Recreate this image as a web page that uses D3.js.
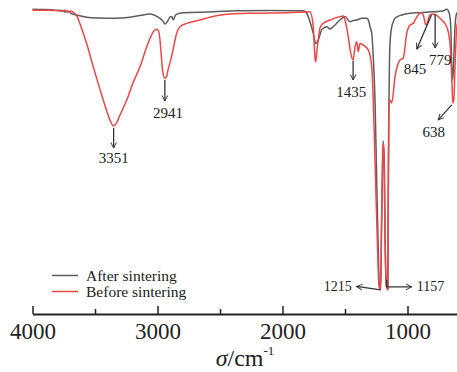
<!DOCTYPE html>
<html>
<head>
<meta charset="utf-8">
<script src="https://cdn.jsdelivr.net/npm/d3@7/dist/d3.min.js"></script>
<style>
  html, body { margin: 0; padding: 0; background: #fff; }
  svg { display: block; }
  text { font-family: "Liberation Serif", "Times New Roman", serif; fill: #222; }
</style>
</head>
<body>
<svg id="chart" width="457" height="372"></svg>
<script>
// FTIR spectra, wavenumber (cm^-1) vs transmittance (%)
const afterWn = [4000, 3900, 3820, 3764, 3740, 3716, 3684, 3646, 3566, 3460, 3354, 3220, 3140, 3060, 3020, 2980, 2956, 2940, 2924, 2914, 2900, 2886, 2874, 2860, 2846, 2794, 2554, 2366, 2100, 1834, 1812, 1794, 1772, 1754, 1734, 1714, 1686, 1646, 1620, 1594, 1572, 1540, 1500, 1460, 1436, 1406, 1366, 1326, 1308, 1300, 1286, 1274, 1260, 1248, 1236, 1224, 1215, 1208, 1200, 1194, 1186, 1180, 1168, 1157, 1154, 1148, 1140, 1126, 1114, 1100, 1046, 980, 900, 794, 716, 686, 666, 654, 646, 638, 630, 620, 606, 580];
const afterT  = [99.9, 99.8, 99.6, 99.5, 98.9, 99.3, 98.2, 97.9, 97.1, 96.8, 96.7, 97.1, 97.7, 98.2, 97.7, 96.7, 95.7, 94.7, 95.4, 96.1, 97.2, 97.3, 96.1, 97.5, 98.2, 98.7, 99.0, 99.4, 99.5, 99.4, 98.9, 97.3, 94.3, 91.4, 87.8, 89.0, 92.6, 93.7, 92.9, 93.7, 94.7, 96.1, 97.3, 95.5, 95.9, 96.1, 96.7, 96.7, 95.4, 93.7, 91.4, 83.1, 67.7, 42.9, 18.1, 1.4, 0.7, 21.6, 42.9, 53.2, 44.7, 19.9, 1.4, 0.7, 32.3, 67.7, 87.8, 93.7, 95.4, 96.7, 97.9, 98.5, 98.7, 99.0, 99.3, 99.9, 98.5, 93.7, 79.5, 74.8, 81.9, 93.7, 98.5, 99.3];

const beforeWn = [4000, 3900, 3820, 3764, 3740, 3716, 3692, 3668, 3644, 3620, 3594, 3556, 3514, 3476, 3434, 3404, 3380, 3351, 3328, 3300, 3246, 3196, 3140, 3086, 3052, 3034, 3006, 2992, 2980, 2968, 2958, 2941, 2928, 2916, 2900, 2876, 2846, 2820, 2766, 2660, 2540, 2420, 2236, 1966, 1820, 1780, 1754, 1740, 1734, 1726, 1714, 1700, 1674, 1620, 1540, 1514, 1500, 1474, 1456, 1435, 1420, 1406, 1394, 1380, 1354, 1314, 1286, 1274, 1260, 1244, 1228, 1215, 1208, 1200, 1194, 1186, 1180, 1168, 1157, 1154, 1150, 1140, 1126, 1100, 1060, 1034, 1006, 980, 954, 926, 900, 886, 874, 852, 820, 794, 740, 686, 660, 646, 638, 630, 620, 612, 604, 580];
const beforeT  = [99.6, 99.6, 99.5, 99.3, 99.6, 98.9, 99.3, 98.6, 97.5, 94.7, 91.5, 86.2, 79.5, 73.8, 67.7, 63.5, 60.6, 58.5, 59.6, 62.4, 67.7, 73.8, 79.5, 86.6, 90.4, 91.9, 92.8, 92.2, 89.0, 82.6, 77.7, 75.5, 75.9, 78.4, 80.9, 85.5, 91.5, 93.7, 94.9, 96.1, 97.5, 98.2, 98.5, 98.7, 98.9, 99.0, 93.7, 82.6, 81.3, 84.8, 89.0, 93.3, 94.9, 96.1, 97.3, 97.5, 96.1, 90.2, 84.8, 81.9, 86.6, 88.4, 84.9, 87.8, 87.2, 85.5, 79.5, 67.7, 46.5, 21.6, 2.1, 0.4, 21.6, 46.5, 52.5, 46.5, 21.6, 2.1, 0.4, 32.3, 64.2, 67.7, 66.7, 75.9, 81.9, 82.6, 91.4, 94.3, 94.9, 97.2, 98.5, 98.7, 97.9, 94.3, 97.9, 98.2, 96.7, 93.7, 87.9, 76.0, 66.7, 67.7, 79.5, 89.0, 94.3, 96.8];

const seriesNames = ["After sintering", "Before sintering"];
const seriesColors = ["#5c5c5c", "#ef4646"];

// axis ticks
const majorTicks = [4000, 3000, 2000, 1000];
const minorTicks = [3500, 2500, 1500, 500];

// peak annotations
const peakWn = [3351, 2941, 1435, 845, 779, 638, 1215, 1157];
const peakLabels = ["3351", "2941", "1435", "845", "779", "638", "1215", "1157"];

const svg = d3.select("#chart");
const x = d3.scaleLinear().domain([4000, 400]).range([32.5, 482.5]);
const y = d3.scaleLinear().domain([0, 100]).range([291, 9]);
const axisY = 314;

const line = d3.line()
  .x(d => x(d[0]))
  .y(d => y(d[1]))
  .curve(d3.curveMonotoneX);

const afterData = afterWn.map((w, i) => [w, afterT[i]]);
const beforeData = beforeWn.map((w, i) => [w, beforeT[i]]);

// spectra
svg.append("path").datum(afterData)
  .attr("d", line).attr("fill", "none")
  .attr("stroke", seriesColors[0]).attr("stroke-width", 1.5)
  .attr("stroke-linejoin", "round");
svg.append("path").datum(beforeData)
  .attr("d", line).attr("fill", "none")
  .attr("stroke", seriesColors[1]).attr("stroke-width", 1.5)
  .attr("stroke-linejoin", "round");

// x axis with inward ticks
const axisG = svg.append("g").attr("transform", `translate(0,${axisY})`);
axisG.call(d3.axisBottom(x).tickValues(majorTicks).tickSizeInner(-8).tickSizeOuter(0).tickFormat(d3.format("d")));
axisG.select(".domain").attr("stroke", "#222").attr("stroke-width", 1.8);
axisG.selectAll(".tick line").attr("stroke", "#222").attr("stroke-width", 1.5);
axisG.selectAll(".tick text")
  .attr("y", 25).attr("dy", null)
  .style("font-family", "'Liberation Serif', 'Times New Roman', serif")
  .style("font-size", "23px").style("fill", "#222");
const minorG = svg.append("g").attr("transform", `translate(0,${axisY})`);
minorG.call(d3.axisBottom(x).tickValues(minorTicks).tickSizeInner(-5).tickSizeOuter(0).tickFormat(""));
minorG.select(".domain").remove();
minorG.selectAll(".tick line").attr("stroke", "#222").attr("stroke-width", 1.5);

// axis title
const title = svg.append("text")
  .attr("x", 245).attr("y", 366)
  .attr("text-anchor", "middle")
  .style("font-size", "24px");
title.append("tspan").style("font-style", "italic").text("σ");
title.append("tspan").text("/cm");
title.append("tspan").attr("dy", -11).style("font-size", "13px").text("-1");

// legend
const legend = svg.append("g");
seriesNames.forEach((name, i) => {
  const ly = 275.5 + i * 16;
  legend.append("line")
    .attr("x1", 52).attr("x2", 78).attr("y1", ly).attr("y2", ly)
    .attr("stroke", seriesColors[i]).attr("stroke-width", 1.5);
  legend.append("text")
    .attr("x", 86).attr("y", ly + 5)
    .style("font-size", "15.5px").text(name);
});

// arrow marker
svg.append("defs").append("marker")
  .attr("id", "arrow").attr("viewBox", "0 0 10 10")
  .attr("refX", 9).attr("refY", 5)
  .attr("markerWidth", 7).attr("markerHeight", 7)
  .attr("markerUnits", "userSpaceOnUse")
  .attr("orient", "auto")
  .append("path").attr("d", "M1,1 L9,5 L1,9")
  .attr("fill", "none").attr("stroke", "#333").attr("stroke-width", 1.4);

// transmittance of the "before" spectrum at a given wavenumber (linear interpolation)
function beforeAt(w) {
  for (let i = 0; i < beforeData.length - 1; i++) {
    const a = beforeData[i], b = beforeData[i + 1];
    if (w <= a[0] && w >= b[0]) {
      const t = (a[0] - w) / (a[0] - b[0]);
      return a[1] + t * (b[1] - a[1]);
    }
  }
  return beforeData[beforeData.length - 1][1];
}

// annotation layout: arrow path points and label placement relative to the anchor (pixels);
// "ref" is the wavenumber on the curve the arrow hangs from, when it differs from the peak
const annotLayout = {
  "3351": { pts: [[0, 2], [0, 22]], lx: 0, ly: 37, anchor: "middle", size: 15 },
  "2941": { pts: [[0, 2], [0, 23]], lx: 3, ly: 40, anchor: "middle", size: 15 },
  "1435": { pts: [[0, 1], [0, 20]], lx: -2, ly: 37, anchor: "middle", size: 15 },
  "845":  { ref: 794, pts: [[4.6, 1], [-10, 35]], lx: -12, ly: 59.5, anchor: "middle", size: 15 },
  "779":  { ref: 794, pts: [[0, 0], [0, 34]], lx: 5, ly: 51, anchor: "middle", size: 15 },
  "638":  { pts: [[-1, 2], [-14.5, 17]], lx: -19, ly: 34, anchor: "middle", size: 15 },
  "1215": { pts: [[0, 0], [-24, -3.5]], lx: -29, ly: 1, anchor: "end", size: 14 },
  "1157": { pts: [[-1.2, -10], [-1.2, -3], [23.8, -3]], lx: 28.8, ly: 1, anchor: "start", size: 14 }
};

const annot = svg.append("g");
peakWn.forEach((w, i) => {
  const label = peakLabels[i];
  const lay = annotLayout[label];
  const px = x(w);
  const py = y(beforeAt(lay.ref !== undefined ? lay.ref : w));
  annot.append("path")
    .attr("d", d3.line()(lay.pts.map(p => [px + p[0], py + p[1]])))
    .attr("fill", "none").attr("stroke", "#333").attr("stroke-width", 1.3)
    .attr("marker-end", "url(#arrow)");
  annot.append("text")
    .attr("x", px + lay.lx).attr("y", py + lay.ly)
    .attr("text-anchor", lay.anchor)
    .style("font-size", lay.size + "px")
    .text(label);
});
</script>
</body>
</html>
